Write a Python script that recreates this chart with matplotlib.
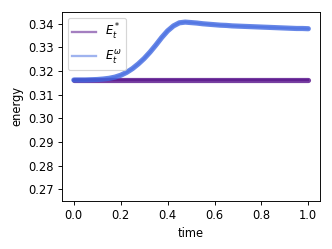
import matplotlib
matplotlib.use("Agg")
import matplotlib.pyplot as plt
import numpy as np

# values (t step 0.025)
time = np.linspace(0.0, 1.0, 41)
energy_star = [0.3162] * 41
energy_omega = [
    0.3162, 0.3162, 0.3162, 0.3163, 0.3164, 0.3166, 0.3169, 0.3174,
    0.3182, 0.3194, 0.3210, 0.3230, 0.3253, 0.3280, 0.3310, 0.3342,
    0.3370, 0.3391, 0.3404, 0.3407, 0.3405, 0.3403, 0.3400, 0.3398,
    0.3396, 0.3394, 0.3393, 0.3391, 0.3390, 0.3389, 0.3388, 0.3387,
    0.3386, 0.3385, 0.3384, 0.3383, 0.3382, 0.3381, 0.3380, 0.3380,
    0.3379,
]

STAR_COLOR = "indigo"
OMEGA_COLOR = "royalblue"

fig, ax = plt.subplots(figsize=(4, 3), dpi=83)
fig.subplots_adjust(left=0.187, right=0.964, bottom=0.193, top=0.952)

ax.plot(time, energy_star, color=STAR_COLOR, alpha=0.5, lw=2, label=r"$E_t^*$")
ax.plot(time, energy_omega, color=OMEGA_COLOR, alpha=0.5, lw=2, label=r"$E_t^\omega$")
# thick strip drawn over the thin labelled lines
ax.plot(time, energy_star, color=STAR_COLOR, alpha=0.75, lw=4.5,
        solid_capstyle="round")
ax.plot(time, energy_omega, color=OMEGA_COLOR, alpha=0.8, lw=4.5,
        solid_capstyle="round")

ax.set_ylim(0.265, 0.345)
ax.set_yticks([0.27, 0.28, 0.29, 0.30, 0.31, 0.32, 0.33, 0.34])
ax.set_xticks([0.0, 0.2, 0.4, 0.6, 0.8, 1.0])
ax.set_xlabel("time")
ax.set_ylabel("energy")
ax.legend(loc="upper left")

fig.savefig("out.png", dpi=83)
